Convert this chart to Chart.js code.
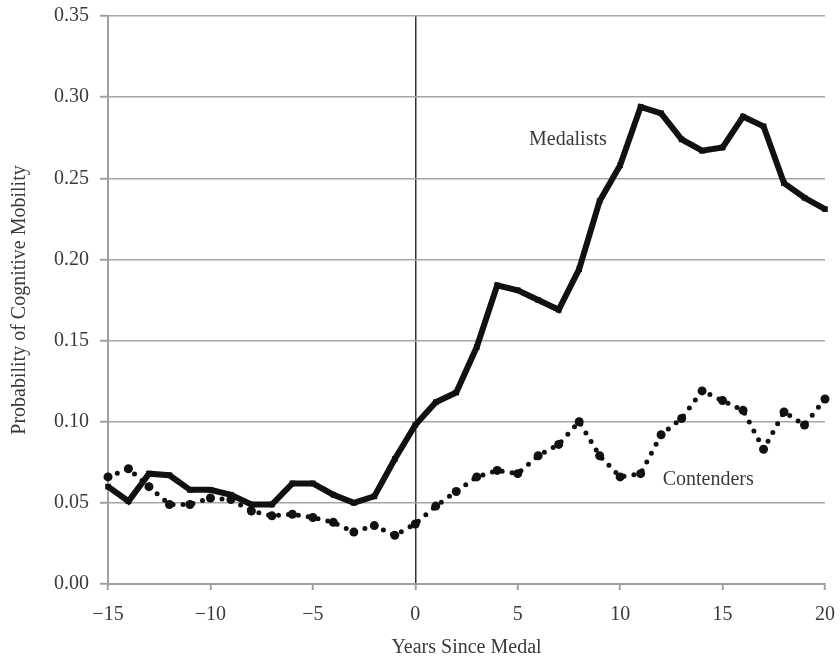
<!DOCTYPE html>
<html>
<head>
<meta charset="utf-8">
<script src="https://cdn.jsdelivr.net/npm/chart.js@4.4.1/dist/chart.umd.min.js"></script>
<style>
  html, body { margin: 0; padding: 0; background: #fff; }
  canvas { display: block; }
</style>
</head>
<body>
<canvas id="mobilityChart" width="840" height="658"></canvas>
<script>
const years = [-15, -14, -13, -12, -11, -10, -9, -8, -7, -6, -5, -4, -3, -2, -1, 0,
  1, 2, 3, 4, 5, 6, 7, 8, 9, 10, 11, 12, 13, 14, 15, 16, 17, 18, 19, 20];
const medalists = [0.060, 0.051, 0.068, 0.067, 0.058, 0.058, 0.055, 0.049, 0.049, 0.062, 0.062, 0.055,
  0.050, 0.054, 0.077, 0.098, 0.112, 0.118, 0.146, 0.184, 0.181, 0.175, 0.169, 0.194,
  0.236, 0.258, 0.294, 0.290, 0.274, 0.267, 0.269, 0.288, 0.282, 0.247, 0.238, 0.231];
const contenders = [0.066, 0.071, 0.060, 0.049, 0.049, 0.053, 0.052, 0.045, 0.042, 0.043, 0.041, 0.038,
  0.032, 0.036, 0.030, 0.037, 0.048, 0.057, 0.066, 0.070, 0.068, 0.079, 0.086, 0.100,
  0.079, 0.066, 0.068, 0.092, 0.102, 0.119, 0.113, 0.107, 0.083, 0.106, 0.098, 0.114];
const xTicks = [-15, -10, -5, 0, 5, 10, 15, 20];
const yTicks = [0.00, 0.05, 0.10, 0.15, 0.20, 0.25, 0.30, 0.35];
const seriesLabels = [
  { text: "Medalists", x: 7.45, y: 0.274 },
  { text: "Contenders", x: 14.3, y: 0.064 },
];

const pairs = (vals) => vals.map((v, i) => ({ x: years[i], y: v }));

// draws the two series names next to their lines
const seriesText = {
  id: "seriesText",
  afterDatasetsDraw(chart) {
    const { ctx, scales } = chart;
    ctx.save();
    ctx.font = "20px 'Liberation Serif'";
    ctx.fillStyle = "#3a3a3a";
    ctx.textAlign = "center";
    ctx.textBaseline = "middle";
    seriesLabels.forEach((l) => {
      ctx.fillText(l.text, scales.x.getPixelForValue(l.x), scales.y.getPixelForValue(l.y));
    });
    ctx.restore();
  },
};

Chart.defaults.font.family = "'Liberation Serif', 'Times New Roman', serif";
Chart.defaults.color = "#3a3a3a";

const ctx = document.getElementById("mobilityChart").getContext("2d");
new Chart(ctx, {
  type: "line",
  data: {
    datasets: [
      {
        label: "Medalists",
        data: pairs(medalists),
        borderColor: "#111111",
        backgroundColor: "#111111",
        borderWidth: 6,
        pointStyle: "rect",
        pointRadius: 4,
        pointBorderWidth: 0,
        tension: 0,
        clip: 8,
      },
      {
        label: "Contenders",
        data: pairs(contenders),
        borderColor: "#111111",
        backgroundColor: "#111111",
        borderWidth: 5,
        borderDash: [0, 10],
        borderCapStyle: "round",
        pointStyle: "circle",
        pointRadius: 4.5,
        pointBorderWidth: 0,
        tension: 0,
        clip: 8,
      },
    ],
  },
  options: {
    responsive: false,
    animation: false,
    events: [],
    layout: {
      padding: { top: 16, right: 15, bottom: 0, left: 0 },
    },
    plugins: {
      legend: { display: false },
      tooltip: { enabled: false },
    },
    scales: {
      x: {
        type: "linear",
        min: -15,
        max: 20,
        afterBuildTicks: (scale) => {
          scale.ticks = xTicks.map((v) => ({ value: v }));
        },
        afterFit: (scale) => {
          scale.height = 74;
          scale.paddingLeft = 0;
          scale.paddingRight = 0;
        },
        ticks: {
          font: { size: 20 },
          padding: 13,
          maxRotation: 0,
          callback: (v) => (v < 0 ? "\u2212" + Math.abs(v) : String(v)),
        },
        grid: {
          color: (c) => (c.tick && c.tick.value === 0 ? "#333333" : "rgba(0,0,0,0)"),
          lineWidth: 1.5,
          tickLength: 6,
          tickColor: "#a0a0a0",
          tickWidth: 2,
        },
        border: { color: "#a0a0a0", width: 2 },
        title: {
          display: true,
          text: "Years Since Medal",
          font: { size: 20, lineHeight: 1 },
          padding: { top: 0, bottom: 0 },
        },
      },
      y: {
        min: 0,
        max: 0.35,
        afterBuildTicks: (scale) => {
          scale.ticks = yTicks.map((v) => ({ value: v }));
        },
        afterFit: (scale) => {
          scale.width = 108;
          scale.paddingTop = 0;
          scale.paddingBottom = 0;
        },
        ticks: {
          font: { size: 20 },
          padding: 11,
          callback: (v) => Number(v).toFixed(2),
        },
        grid: {
          color: "#a6a6a6",
          lineWidth: 1.5,
          tickLength: 8,
          tickColor: "#a0a0a0",
          tickWidth: 2,
        },
        border: { color: "#a0a0a0", width: 2 },
        title: {
          display: true,
          text: "Probability of Cognitive Mobility",
          font: { size: 20, lineHeight: 1.2 },
          padding: { top: 8, bottom: 0 },
        },
      },
    },
  },
  plugins: [seriesText],
});
</script>
</body>
</html>
